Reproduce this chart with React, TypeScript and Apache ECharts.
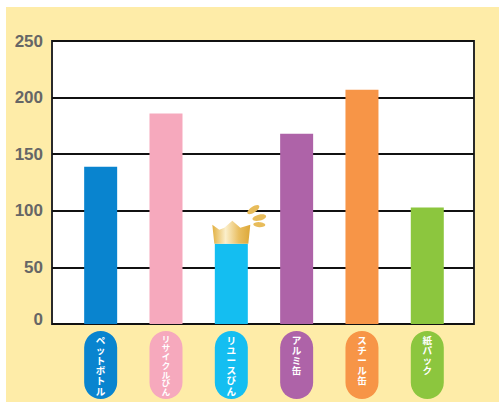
import React, { useEffect, useRef } from "react";
import * as echarts from "echarts";

const categories = ["ペットボトル", "リサイクルびん", "リユースびん", "アルミ缶", "スチール缶", "紙パック"];
const values = [139, 186, 71, 168, 207, 103];
const colors = ["#0984CF", "#F6A9BD", "#14BEF1", "#AE63A8", "#F79547", "#8CC63E"];
const yTicks = { min: 0, max: 250, interval: 50 };
const crownCategory = 2;

export default function App() {
  const ref = useRef<HTMLDivElement>(null);
  useEffect(() => {
    const chart = echarts.init(ref.current!, undefined, { renderer: "svg" });
    const gold = new echarts.graphic.LinearGradient(0, 0, 1, 0, [
      { offset: 0, color: "#E2B041" },
      { offset: 0.35, color: "#FBEFCB" },
      { offset: 0.7, color: "#E9BE60" },
      { offset: 1, color: "#DDA838" },
    ]);
    chart.setOption({
      animation: false,
      backgroundColor: "transparent",
      grid: {
        show: true,
        left: 52,
        top: 41,
        width: 422,
        height: 283,
        backgroundColor: "#ffffff",
        borderColor: "#2a2a2a",
        borderWidth: 2,
      },
      xAxis: {
        type: "value",
        min: -0.745,
        max: 5.715,
        axisLine: { show: false },
        axisTick: { show: false },
        axisLabel: { show: false },
        splitLine: { show: false },
      },
      yAxis: {
        type: "value",
        min: yTicks.min,
        max: yTicks.max,
        interval: yTicks.interval,
        axisLine: { show: false },
        axisTick: { show: false },
        axisLabel: {
          color: "#666666",
          fontFamily: "Liberation Sans",
          fontWeight: "bold",
          fontSize: 17,
          lineHeight: 10,
          padding: [2, 0, 0, 0],
          margin: 9,
          verticalAlignMinLabel: "bottom",
        },
        splitLine: { show: true, lineStyle: { color: "#111111", width: 2 } },
      },
      series: [
        {
          type: "bar",
          barWidth: 33,
          data: values.map((v, i) => ({ value: [i, v], itemStyle: { color: colors[i] } })),
          z: 3,
        },
        {
          type: "custom",
          clip: false,
          silent: true,
          z: 4,
          data: categories.map((_, i) => [i, 0]),
          encode: { x: 0, y: 1 },
          renderItem: (params: any, api: any) => {
            const i = params.dataIndex;
            const [cx, cy] = api.coord([i, 0]);
            const dense = categories[i].length > 6;
            return {
              type: "group",
              children: [
                {
                  type: "rect",
                  shape: { x: cx - 16.5, y: cy + 7, width: 33, height: 68, r: 16.5 },
                  style: { fill: colors[i] },
                },
                {
                  type: "text",
                  style: {
                    x: cx,
                    y: cy + 11,
                    text: categories[i].split("").join("\n"),
                    fill: "#ffffff",
                    fontFamily: "'Liberation Sans', 'Noto Sans CJK JP'",
                    fontWeight: "bold",
                    fontSize: dense ? 8.5 : 9.6,
                    lineHeight: dense ? 8.8 : 10.2,
                    align: "center",
                    verticalAlign: "top",
                  },
                },
              ],
            };
          },
        },
        {
          type: "custom",
          clip: false,
          silent: true,
          z: 5,
          data: [[crownCategory, values[crownCategory]]],
          encode: { x: 0, y: 1 },
          renderItem: (_: any, api: any) => {
            const [cx, top] = api.coord([api.value(0), api.value(1)]);
            const leaf = (dx: number, dy: number, rx: number, ry: number, rotation: number) => ({
              type: "ellipse",
              x: cx + dx,
              y: top + dy,
              rotation,
              shape: { cx: 0, cy: 0, rx, ry },
              style: { fill: "#E8BC5A" },
            });
            return {
              type: "group",
              children: [
                {
                  type: "polygon",
                  shape: {
                    points: [
                      [cx - 19, top - 19],
                      [cx - 12, top - 14],
                      [cx - 7, top - 16],
                      [cx + 1, top - 23],
                      [cx + 9, top - 16],
                      [cx + 19, top - 19],
                      [cx + 17, top],
                      [cx - 17, top],
                    ],
                  },
                  style: { fill: gold },
                },
                leaf(22, -34, 7, 3, 0.6),
                leaf(28, -26, 7, 3, 0.25),
                leaf(28, -19, 6, 2.5, -0.05),
              ],
            };
          },
        },
      ],
    });
    return () => chart.dispose();
  }, []);
  return (
    <div style={{ position: "fixed", left: 0, top: 0, width: 499, height: 402, background: "#ffffff", overflow: "hidden" }}>
      <div style={{ position: "absolute", left: 6, top: 7, right: 0, bottom: 0, background: "#FEECA8" }} />
      <div ref={ref} style={{ position: "absolute", left: 0, top: 0, width: 499, height: 402 }} />
    </div>
  );
}
